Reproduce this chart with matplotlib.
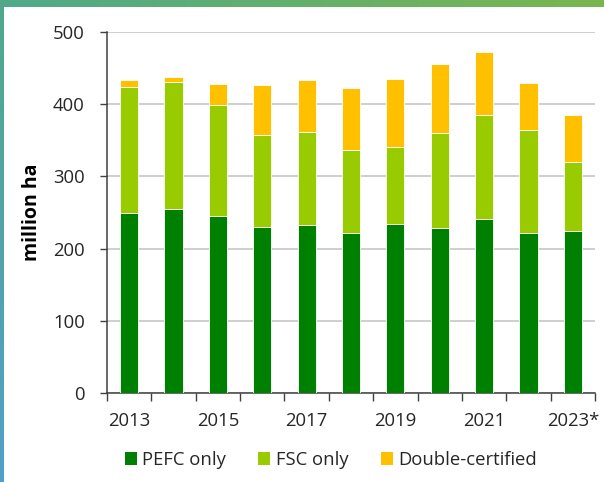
import numpy as np
import matplotlib
matplotlib.use("Agg")
import matplotlib.pyplot as plt
from matplotlib.patches import Patch

plt.rcParams['font.family'] = ['Open Sans', 'DejaVu Sans']

years = ["2013", "2014", "2015", "2016", "2017", "2018", "2019", "2020", "2021", "2022", "2023*"]
pefc_only = [250, 255, 245, 230, 232, 222, 234, 229, 241, 222, 225]
fsc_only = [174, 176, 154, 127, 130, 114, 107, 131, 144, 142, 95]
double_cert = [9, 7, 29, 69, 71, 87, 94, 95, 87, 66, 65]
series_names = ["PEFC only", "FSC only", "Double-certified"]
colors = ["#008000", "#99CC00", "#FFC000"]
yticks = [0, 100, 200, 300, 400, 500]

W, H = 604, 482
fig = plt.figure(figsize=(W / 100, H / 100), dpi=100)

# decorative frame (gradient border top & left)
bg = np.ones((H, W, 3))
tl = np.array([79, 169, 138]) / 255
tr = np.array([122, 182, 78]) / 255
bl = np.array([79, 160, 201]) / 255
t = np.linspace(0, 1, W)[:, None]
bg[0:7, :, :] = (tl * (1 - t) + tr * t)[None, :, :]
s = np.linspace(0, 1, H)[:, None]
bg[:, 0:4, :] = (tl * (1 - s) + bl * s)[:, None, :]
bax = fig.add_axes([0, 0, 1, 1], zorder=-10)
bax.imshow(bg, aspect='auto', interpolation='nearest')
bax.axis('off')

ax = fig.add_axes([107 / W, 1 - 393 / H, (595 - 107) / W, (393 - 32) / H])
ax.patch.set_alpha(0)
x = np.arange(len(years))
bw = 0.41
bottoms = np.zeros(len(years))
handles = []
for vals, col, name in zip([pefc_only, fsc_only, double_cert], colors, series_names):
    ax.bar(x, vals, bw, bottom=bottoms, color=col, edgecolor='#ffffff', linewidth=0.6, zorder=3)
    bottoms += np.array(vals)
    handles.append(Patch(facecolor=col, edgecolor='none', label=name))

ax.set_xlim(-0.5, len(years) - 0.5)
ax.set_ylim(0, 500)
ax.set_yticks(yticks)
ax.yaxis.grid(True, color='#cccccc', linewidth=1.3, zorder=0)
ax.set_axisbelow(True)
ax.set_xticks(x[::2])
ax.set_xticklabels(years[::2])
ax.set_xticks(np.arange(-0.5, len(years)), minor=True)
ax.tick_params(axis='x', which='major', length=0, pad=14, labelsize=13.3, colors='#262626')
ax.tick_params(axis='x', which='minor', length=6, width=1, color='#404040')
ax.tick_params(axis='y', length=5, width=1, color='#404040', pad=11, labelsize=13.3, labelcolor='#262626')
for sp in ['top', 'right']:
    ax.spines[sp].set_visible(False)
for sp in ['left', 'bottom']:
    ax.spines[sp].set_color('#404040')
    ax.spines[sp].set_linewidth(1.1)
ax.set_ylabel("million ha", fontsize=14, fontweight='bold', color='#000000')
ax.yaxis.set_label_coords(-0.133, 0.5)

fig.legend(handles=handles, loc='center', bbox_to_anchor=(331 / W, 1 - 460 / H), ncol=3,
           frameon=False, fontsize=13.3, handlelength=0.65, handleheight=0.65,
           handletextpad=0.3, columnspacing=1.75, labelcolor='#262626')

fig.savefig("out.png", dpi=100)
